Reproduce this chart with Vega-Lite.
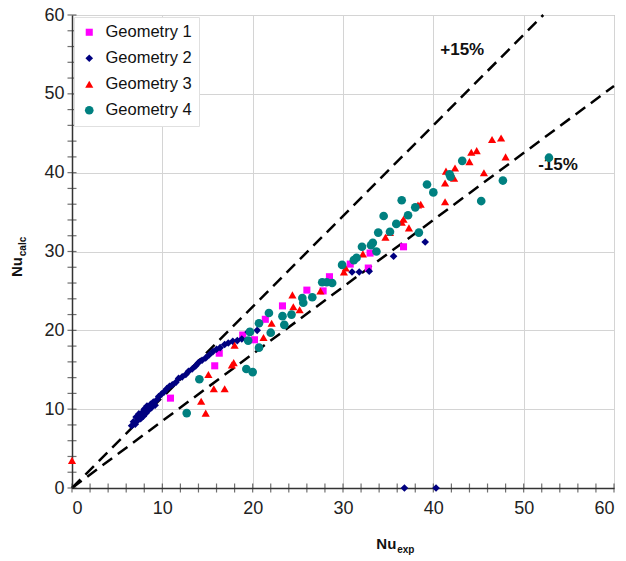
{
  "$schema": "https://vega.github.io/schema/vega-lite/v6.json",
  "width": 542,
  "height": 473,
  "autosize": {"type": "none"},
  "padding": {"left": 72, "top": 15, "right": 12, "bottom": 73},
  "config": {
    "font": "Liberation Sans",
    "view": {"stroke": "#999", "strokeWidth": 1},
    "axis": {"domainColor": "#333", "domainWidth": 1.5, "labelColor": "#222", "labelFont": "Liberation Sans"}
  },
  "datasets": {
    "points": [
      {"geometry": "Geometry 1", "x": 10.9, "y": 11.4},
      {"geometry": "Geometry 1", "x": 15.8, "y": 15.5},
      {"geometry": "Geometry 1", "x": 16.3, "y": 17.1},
      {"geometry": "Geometry 1", "x": 18.9, "y": 19.4},
      {"geometry": "Geometry 1", "x": 20.2, "y": 18.8},
      {"geometry": "Geometry 1", "x": 21.4, "y": 21.4},
      {"geometry": "Geometry 1", "x": 23.3, "y": 23.1},
      {"geometry": "Geometry 1", "x": 26.0, "y": 25.1},
      {"geometry": "Geometry 1", "x": 27.8, "y": 25.0},
      {"geometry": "Geometry 1", "x": 28.5, "y": 26.8},
      {"geometry": "Geometry 1", "x": 30.8, "y": 28.4},
      {"geometry": "Geometry 1", "x": 32.8, "y": 27.9},
      {"geometry": "Geometry 1", "x": 33.0, "y": 29.8},
      {"geometry": "Geometry 1", "x": 36.7, "y": 30.6},
      {"geometry": "Geometry 2", "x": 6.6, "y": 7.9},
      {"geometry": "Geometry 2", "x": 6.8, "y": 8.4},
      {"geometry": "Geometry 2", "x": 7.0, "y": 8.1},
      {"geometry": "Geometry 2", "x": 7.1, "y": 9.0},
      {"geometry": "Geometry 2", "x": 7.3, "y": 8.6},
      {"geometry": "Geometry 2", "x": 7.4, "y": 9.4},
      {"geometry": "Geometry 2", "x": 7.6, "y": 8.8},
      {"geometry": "Geometry 2", "x": 7.8, "y": 9.6},
      {"geometry": "Geometry 2", "x": 7.9, "y": 9.1},
      {"geometry": "Geometry 2", "x": 8.0, "y": 10.0},
      {"geometry": "Geometry 2", "x": 8.2, "y": 9.5},
      {"geometry": "Geometry 2", "x": 8.3, "y": 10.4},
      {"geometry": "Geometry 2", "x": 8.5, "y": 9.9},
      {"geometry": "Geometry 2", "x": 8.7, "y": 10.6},
      {"geometry": "Geometry 2", "x": 8.8, "y": 10.2},
      {"geometry": "Geometry 2", "x": 9.0, "y": 10.9},
      {"geometry": "Geometry 2", "x": 9.2, "y": 10.5},
      {"geometry": "Geometry 2", "x": 9.4, "y": 11.2},
      {"geometry": "Geometry 2", "x": 9.6, "y": 11.6},
      {"geometry": "Geometry 2", "x": 9.9, "y": 11.9},
      {"geometry": "Geometry 2", "x": 10.2, "y": 12.2},
      {"geometry": "Geometry 2", "x": 10.5, "y": 12.6},
      {"geometry": "Geometry 2", "x": 10.8, "y": 12.9},
      {"geometry": "Geometry 2", "x": 11.1, "y": 13.1},
      {"geometry": "Geometry 2", "x": 11.5, "y": 13.4},
      {"geometry": "Geometry 2", "x": 11.8, "y": 13.9},
      {"geometry": "Geometry 2", "x": 12.2, "y": 14.1},
      {"geometry": "Geometry 2", "x": 12.6, "y": 14.4},
      {"geometry": "Geometry 2", "x": 12.9, "y": 14.8},
      {"geometry": "Geometry 2", "x": 13.3, "y": 15.1},
      {"geometry": "Geometry 2", "x": 13.7, "y": 15.5},
      {"geometry": "Geometry 2", "x": 14.0, "y": 15.9},
      {"geometry": "Geometry 2", "x": 14.4, "y": 16.2},
      {"geometry": "Geometry 2", "x": 14.8, "y": 16.5},
      {"geometry": "Geometry 2", "x": 15.2, "y": 16.9},
      {"geometry": "Geometry 2", "x": 15.6, "y": 17.3},
      {"geometry": "Geometry 2", "x": 16.0, "y": 17.6},
      {"geometry": "Geometry 2", "x": 16.4, "y": 17.8},
      {"geometry": "Geometry 2", "x": 16.9, "y": 18.2},
      {"geometry": "Geometry 2", "x": 17.3, "y": 18.4},
      {"geometry": "Geometry 2", "x": 17.8, "y": 18.6},
      {"geometry": "Geometry 2", "x": 18.3, "y": 18.7},
      {"geometry": "Geometry 2", "x": 18.8, "y": 18.9},
      {"geometry": "Geometry 2", "x": 19.5, "y": 19.8},
      {"geometry": "Geometry 2", "x": 20.5, "y": 20.0},
      {"geometry": "Geometry 2", "x": 31.0, "y": 27.4},
      {"geometry": "Geometry 2", "x": 31.8, "y": 27.4},
      {"geometry": "Geometry 2", "x": 32.9, "y": 27.5},
      {"geometry": "Geometry 2", "x": 35.6, "y": 29.4},
      {"geometry": "Geometry 2", "x": 39.1, "y": 31.2},
      {"geometry": "Geometry 2", "x": 36.8, "y": 0},
      {"geometry": "Geometry 2", "x": 40.3, "y": 0},
      {"geometry": "Geometry 3", "x": 0, "y": 3.5},
      {"geometry": "Geometry 3", "x": 14.3, "y": 11.0},
      {"geometry": "Geometry 3", "x": 14.8, "y": 9.5},
      {"geometry": "Geometry 3", "x": 15.1, "y": 14.4},
      {"geometry": "Geometry 3", "x": 15.7, "y": 12.6},
      {"geometry": "Geometry 3", "x": 16.9, "y": 12.6},
      {"geometry": "Geometry 3", "x": 17.7, "y": 15.6},
      {"geometry": "Geometry 3", "x": 17.9, "y": 15.9},
      {"geometry": "Geometry 3", "x": 18.0, "y": 18.1},
      {"geometry": "Geometry 3", "x": 21.2, "y": 19.1},
      {"geometry": "Geometry 3", "x": 22.1, "y": 20.9},
      {"geometry": "Geometry 3", "x": 24.4, "y": 24.5},
      {"geometry": "Geometry 3", "x": 24.5, "y": 23.0},
      {"geometry": "Geometry 3", "x": 25.2, "y": 22.6},
      {"geometry": "Geometry 3", "x": 27.5, "y": 25.0},
      {"geometry": "Geometry 3", "x": 30.1, "y": 27.4},
      {"geometry": "Geometry 3", "x": 30.3, "y": 27.9},
      {"geometry": "Geometry 3", "x": 32.2, "y": 29.7},
      {"geometry": "Geometry 3", "x": 34.7, "y": 31.8},
      {"geometry": "Geometry 3", "x": 35.2, "y": 32.4},
      {"geometry": "Geometry 3", "x": 36.5, "y": 33.7},
      {"geometry": "Geometry 3", "x": 36.7, "y": 34.1},
      {"geometry": "Geometry 3", "x": 37.3, "y": 33.0},
      {"geometry": "Geometry 3", "x": 38.3, "y": 35.9},
      {"geometry": "Geometry 3", "x": 38.6, "y": 36.0},
      {"geometry": "Geometry 3", "x": 41.3, "y": 36.3},
      {"geometry": "Geometry 3", "x": 41.3, "y": 38.7},
      {"geometry": "Geometry 3", "x": 41.4, "y": 40.2},
      {"geometry": "Geometry 3", "x": 42.4, "y": 40.6},
      {"geometry": "Geometry 3", "x": 42.3, "y": 39.3},
      {"geometry": "Geometry 3", "x": 44.0, "y": 41.4},
      {"geometry": "Geometry 3", "x": 44.2, "y": 42.6},
      {"geometry": "Geometry 3", "x": 44.8, "y": 42.8},
      {"geometry": "Geometry 3", "x": 45.6, "y": 40.0},
      {"geometry": "Geometry 3", "x": 46.5, "y": 44.2},
      {"geometry": "Geometry 3", "x": 47.5, "y": 44.4},
      {"geometry": "Geometry 3", "x": 48.0, "y": 42.0},
      {"geometry": "Geometry 4", "x": 12.7, "y": 9.5},
      {"geometry": "Geometry 4", "x": 14.1, "y": 13.8},
      {"geometry": "Geometry 4", "x": 19.3, "y": 15.1},
      {"geometry": "Geometry 4", "x": 20.0, "y": 14.7},
      {"geometry": "Geometry 4", "x": 19.7, "y": 19.8},
      {"geometry": "Geometry 4", "x": 19.5, "y": 18.7},
      {"geometry": "Geometry 4", "x": 20.7, "y": 17.8},
      {"geometry": "Geometry 4", "x": 20.7, "y": 20.9},
      {"geometry": "Geometry 4", "x": 21.8, "y": 22.2},
      {"geometry": "Geometry 4", "x": 22.0, "y": 19.7},
      {"geometry": "Geometry 4", "x": 23.3, "y": 21.8},
      {"geometry": "Geometry 4", "x": 23.5, "y": 20.7},
      {"geometry": "Geometry 4", "x": 24.3, "y": 22.0},
      {"geometry": "Geometry 4", "x": 25.5, "y": 24.1},
      {"geometry": "Geometry 4", "x": 25.6, "y": 23.5},
      {"geometry": "Geometry 4", "x": 26.6, "y": 24.2},
      {"geometry": "Geometry 4", "x": 27.7, "y": 26.1},
      {"geometry": "Geometry 4", "x": 28.2, "y": 26.1},
      {"geometry": "Geometry 4", "x": 28.8, "y": 26.0},
      {"geometry": "Geometry 4", "x": 29.9, "y": 28.3},
      {"geometry": "Geometry 4", "x": 31.2, "y": 28.9},
      {"geometry": "Geometry 4", "x": 31.5, "y": 29.2},
      {"geometry": "Geometry 4", "x": 32.1, "y": 30.6},
      {"geometry": "Geometry 4", "x": 33.1, "y": 30.8},
      {"geometry": "Geometry 4", "x": 33.3, "y": 31.1},
      {"geometry": "Geometry 4", "x": 33.7, "y": 30.0},
      {"geometry": "Geometry 4", "x": 33.9, "y": 32.4},
      {"geometry": "Geometry 4", "x": 34.5, "y": 34.5},
      {"geometry": "Geometry 4", "x": 35.2, "y": 32.5},
      {"geometry": "Geometry 4", "x": 35.9, "y": 33.5},
      {"geometry": "Geometry 4", "x": 36.5, "y": 36.5},
      {"geometry": "Geometry 4", "x": 37.2, "y": 34.6},
      {"geometry": "Geometry 4", "x": 38.0, "y": 35.6},
      {"geometry": "Geometry 4", "x": 38.4, "y": 32.4},
      {"geometry": "Geometry 4", "x": 39.3, "y": 38.5},
      {"geometry": "Geometry 4", "x": 40.0, "y": 37.5},
      {"geometry": "Geometry 4", "x": 41.9, "y": 39.5},
      {"geometry": "Geometry 4", "x": 41.8, "y": 39.8},
      {"geometry": "Geometry 4", "x": 43.2, "y": 41.5},
      {"geometry": "Geometry 4", "x": 45.3, "y": 36.4},
      {"geometry": "Geometry 4", "x": 47.7, "y": 39.0},
      {"geometry": "Geometry 4", "x": 52.8, "y": 41.9}
    ],
    "bounds": [
      {"line": "+15%", "x": 0, "y": 0},
      {"line": "+15%", "x": 52.17, "y": 60},
      {"line": "-15%", "x": 0, "y": 0},
      {"line": "-15%", "x": 60, "y": 51}
    ],
    "notes": [
      {"text": "+15%", "x": 43.2, "y": 55.6},
      {"text": "-15%", "x": 53.8, "y": 41.0}
    ],
    "tickValues": [
      {"v": 0}, {"v": 2}, {"v": 4}, {"v": 6}, {"v": 8}, {"v": 10}, {"v": 12}, {"v": 14}, {"v": 16}, {"v": 18},
      {"v": 20}, {"v": 22}, {"v": 24}, {"v": 26}, {"v": 28}, {"v": 30}, {"v": 32}, {"v": 34}, {"v": 36}, {"v": 38},
      {"v": 40}, {"v": 42}, {"v": 44}, {"v": 46}, {"v": 48}, {"v": 50}, {"v": 52}, {"v": 54}, {"v": 56}, {"v": 58}, {"v": 60}
    ]
  },
  "layer": [
    {
      "data": {"name": "bounds"},
      "mark": {"type": "line", "color": "black", "strokeWidth": 2.5, "strokeDash": [12, 7]},
      "encoding": {
        "x": {"field": "x", "type": "quantitative", "scale": {"domain": [0, 60], "nice": false},
          "axis": {"values": [0, 10, 20, 30, 40, 50, 60], "title": null, "grid": true, "gridColor": "#d4d4d4", "ticks": false, "labelFontSize": 18, "labelPadding": 11}},
        "y": {"field": "y", "type": "quantitative", "scale": {"domain": [0, 60], "nice": false},
          "axis": {"values": [0, 10, 20, 30, 40, 50, 60], "title": null, "grid": true, "gridColor": "#d4d4d4", "ticks": false, "labelFontSize": 18, "labelPadding": 8}},
        "detail": {"field": "line"}
      }
    },
    {
      "data": {"name": "tickValues"},
      "mark": {"type": "tick", "orient": "vertical", "size": 9, "thickness": 1.2, "color": "#333", "clip": false},
      "encoding": {
        "x": {"field": "v", "type": "quantitative"},
        "y": {"datum": 0, "type": "quantitative"}
      }
    },
    {
      "data": {"name": "tickValues"},
      "mark": {"type": "tick", "orient": "horizontal", "size": 9, "thickness": 1.2, "color": "#333", "clip": false},
      "encoding": {
        "x": {"datum": 0, "type": "quantitative"},
        "y": {"field": "v", "type": "quantitative"}
      }
    },
    {
      "data": {"name": "notes"},
      "mark": {"type": "text", "fontWeight": "bold", "fontSize": 17, "color": "#111", "baseline": "middle"},
      "encoding": {
        "x": {"field": "x", "type": "quantitative"},
        "y": {"field": "y", "type": "quantitative"},
        "text": {"field": "text"}
      }
    },
    {
      "data": {"name": "points"},
      "mark": {"type": "point", "filled": true, "opacity": 1},
      "encoding": {
        "x": {"field": "x", "type": "quantitative"},
        "y": {"field": "y", "type": "quantitative"},
        "color": {"field": "geometry", "type": "nominal",
          "scale": {"domain": ["Geometry 1", "Geometry 2", "Geometry 3", "Geometry 4"], "range": ["#ff00ff", "#000080", "#ff0000", "#008080"]},
          "legend": {"title": null, "orient": "none", "legendX": 2, "legendY": 2, "fillColor": "white", "strokeColor": "#e0e0e0", "padding": 7, "labelFontSize": 16.5, "labelFont": "Liberation Sans", "labelColor": "#111", "rowPadding": 9, "labelOffset": 8}},
        "shape": {"field": "geometry", "type": "nominal",
          "scale": {"domain": ["Geometry 1", "Geometry 2", "Geometry 3", "Geometry 4"], "range": ["square", "diamond", "triangle-up", "circle"]},
          "legend": {"title": null, "orient": "none", "legendX": 2, "legendY": 2}},
        "size": {"field": "geometry", "type": "nominal",
          "scale": {"domain": ["Geometry 1", "Geometry 2", "Geometry 3", "Geometry 4"], "range": [50, 75, 55, 55]},
          "legend": {"title": null, "orient": "none", "legendX": 2, "legendY": 2}}
      }
    },
    {
      "data": {"values": [{"x": 35.9, "y": -7.7}]},
      "mark": {"type": "text", "text": "Nu", "fontWeight": "bold", "fontSize": 15, "align": "right", "baseline": "alphabetic", "color": "#111"},
      "encoding": {
        "x": {"field": "x", "type": "quantitative"},
        "y": {"field": "y", "type": "quantitative"}
      }
    },
    {
      "data": {"values": [{"x": 36.0, "y": -7.7}]},
      "mark": {"type": "text", "text": "exp", "fontWeight": "bold", "fontSize": 10, "align": "left", "baseline": "alphabetic", "dy": 4, "color": "#111"},
      "encoding": {
        "x": {"field": "x", "type": "quantitative"},
        "y": {"field": "y", "type": "quantitative"}
      }
    },
    {
      "data": {"values": [{"x": -5.5, "y": 29.3}]},
      "mark": {"type": "text", "text": "Nu", "fontWeight": "bold", "fontSize": 15, "angle": 270, "align": "right", "baseline": "alphabetic", "color": "#111"},
      "encoding": {
        "x": {"field": "x", "type": "quantitative"},
        "y": {"field": "y", "type": "quantitative"}
      }
    },
    {
      "data": {"values": [{"x": -5.5, "y": 29.4}]},
      "mark": {"type": "text", "text": "calc", "fontWeight": "bold", "fontSize": 10, "angle": 270, "align": "left", "baseline": "alphabetic", "dy": 4, "color": "#111"},
      "encoding": {
        "x": {"field": "x", "type": "quantitative"},
        "y": {"field": "y", "type": "quantitative"}
      }
    }
  ]
}
